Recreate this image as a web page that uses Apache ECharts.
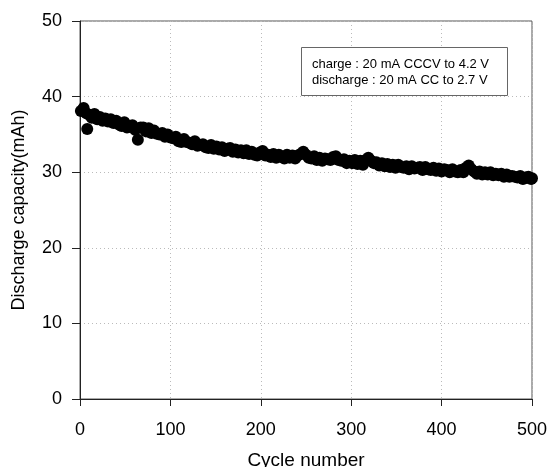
<!DOCTYPE html>
<html>
<head>
<meta charset="utf-8">
<script src="https://cdn.jsdelivr.net/npm/echarts@6/dist/echarts.min.js"></script>
<style>
  html, body { margin: 0; padding: 0; background: #fff; }
  #main { width: 549px; height: 467px; }
</style>
</head>
<body>
<div id="main"></div>
<script>
// Cycle numbers and discharge capacity (mAh)
const cycles = [
  1, 4, 7, 8, 10, 13, 16, 19, 22, 25, 28,
  31, 34, 37, 40, 43, 46, 49, 52, 55, 58,
  61, 64, 67, 70, 73, 76, 79, 82, 85, 88,
  91, 94, 97, 100, 103, 106, 109, 112, 115, 118,
  121, 124, 127, 130, 133, 136, 139, 142, 145, 148,
  151, 154, 157, 160, 163, 166, 169, 172, 175, 178,
  181, 184, 187, 190, 193, 196, 199, 202, 205, 208,
  211, 214, 217, 220, 223, 226, 229, 232, 235, 238,
  241, 244, 247, 250, 253, 256, 259, 262, 265, 268,
  271, 274, 277, 280, 283, 286, 289, 292, 295, 298,
  301, 304, 307, 310, 313, 316, 319, 322, 325, 328,
  331, 334, 337, 340, 343, 346, 349, 352, 355, 358,
  361, 364, 367, 370, 373, 376, 379, 382, 385, 388,
  391, 394, 397, 400, 403, 406, 409, 412, 415, 418,
  421, 424, 427, 430, 433, 436, 439, 442, 445, 448,
  451, 454, 457, 460, 463, 466, 469, 472, 475, 478,
  481, 484, 487, 490, 493, 496, 499, 500
];
const capacity = [
  38.1, 38.5, 37.8, 35.7, 37.6, 37.2, 37.7, 37.0, 37.3, 36.8, 37.1,
  36.7, 37.0, 36.5, 36.8, 36.3, 36.1, 36.6, 35.9, 36.0, 36.2,
  35.6, 34.3, 35.9, 35.9, 35.4, 35.8, 35.2, 35.5, 35.1, 35.0,
  35.2, 34.7, 35.0, 34.6, 34.5, 34.7, 34.1, 34.0, 34.4, 34.0,
  33.9, 33.7, 34.1, 33.5, 33.6, 33.7, 33.3, 33.2, 33.6, 33.1,
  33.4, 33.0, 33.3, 32.8, 33.1, 33.2, 32.7, 33.0, 32.6, 32.9,
  32.5, 32.9, 32.4, 32.7, 32.3, 32.2, 32.6, 32.8, 32.2, 32.3,
  32.0, 32.4, 31.9, 32.3, 32.0, 31.8, 32.3, 31.9, 32.2, 31.8,
  32.2, 32.4, 32.7, 32.3, 31.9, 31.8, 32.1, 31.6, 31.9, 31.5,
  31.8, 31.7, 31.6, 32.0, 32.1, 31.6, 31.5, 31.7, 31.2, 31.5,
  31.2, 31.6, 31.1, 31.5, 31.0, 31.6, 31.9, 31.5, 31.2, 31.3,
  30.9, 31.2, 30.8, 31.1, 30.7, 31.0, 30.6, 31.0, 30.7, 30.6,
  30.8, 30.4, 30.8, 30.5, 30.6, 30.7, 30.3, 30.7, 30.4, 30.3,
  30.6, 30.2, 30.5, 30.1, 30.4, 30.3, 30.0, 30.4, 30.1, 30.0,
  30.3, 30.0, 30.6, 30.9, 30.4, 30.1, 29.8, 30.1, 29.7, 30.0,
  29.7, 30.0, 29.6, 29.8, 29.6, 29.8, 29.4, 29.7, 29.4, 29.5,
  29.4, 29.3, 29.5, 29.1, 29.3, 29.4, 29.1, 29.2
];
const xTicks = [0, 100, 200, 300, 400, 500];
const yTicks = [0, 10, 20, 30, 40, 50];
const noteLines = ["charge : 20 mA CCCV to 4.2 V", "discharge : 20 mA CC to 2.7 V"];

const font = "Liberation Sans, Arial, sans-serif";
let myChart = echarts.init(document.getElementById("main"));

const points = cycles.map((c, i) => [c, capacity[i]]);

let options = {
  animation: false,
  grid: {
    left: 80, right: 17, top: 21, bottom: 68,
    containLabel: false,
    outerBoundsMode: "none",
    show: true, borderColor: "#555", borderWidth: 1
  },
  xAxis: {
    type: "value",
    min: xTicks[0], max: xTicks[xTicks.length - 1], interval: 100,
    name: "Cycle number",
    nameLocation: "middle",
    nameGap: 52,
    nameTextStyle: { fontFamily: font, fontSize: 19, color: "#000" },
    axisLine: { show: true, onZero: false, lineStyle: { color: "#222", width: 1 } },
    axisTick: { show: true, inside: false, length: 7, lineStyle: { color: "#222" } },
    axisLabel: { fontFamily: font, fontSize: 18, color: "#000", margin: 22 },
    splitLine: { show: true, lineStyle: { color: "#bbb", type: [1, 3] } }
  },
  yAxis: {
    type: "value",
    min: yTicks[0], max: yTicks[yTicks.length - 1], interval: 10,
    name: "Discharge capacity(mAh)",
    nameLocation: "middle",
    nameGap: 52,
    nameTextStyle: { fontFamily: font, fontSize: 18, color: "#000" },
    axisLine: { show: true, onZero: false, lineStyle: { color: "#222", width: 1 } },
    axisTick: { show: true, inside: false, length: 8, lineStyle: { color: "#222" } },
    axisLabel: { fontFamily: font, fontSize: 18, color: "#000", margin: 18 },
    splitLine: { show: true, lineStyle: { color: "#bbb", type: [1, 3] } }
  },
  graphic: [
    {
      type: "rect",
      left: 301, top: 47,
      shape: { width: 206, height: 48 },
      style: { fill: "#fff", stroke: "#666", lineWidth: 1 },
      z: 10
    },
    {
      type: "text",
      left: 312, top: 56,
      style: {
        text: noteLines.join("\n"),
        font: "13px " + font,
        lineHeight: 16,
        fill: "#000"
      },
      z: 11
    }
  ],
  series: [
    {
      type: "scatter",
      data: points,
      symbol: "circle",
      symbolSize: 12,
      itemStyle: { color: "#000", opacity: 1 }
    }
  ]
};
myChart.setOption(options);
</script>
</body>
</html>
